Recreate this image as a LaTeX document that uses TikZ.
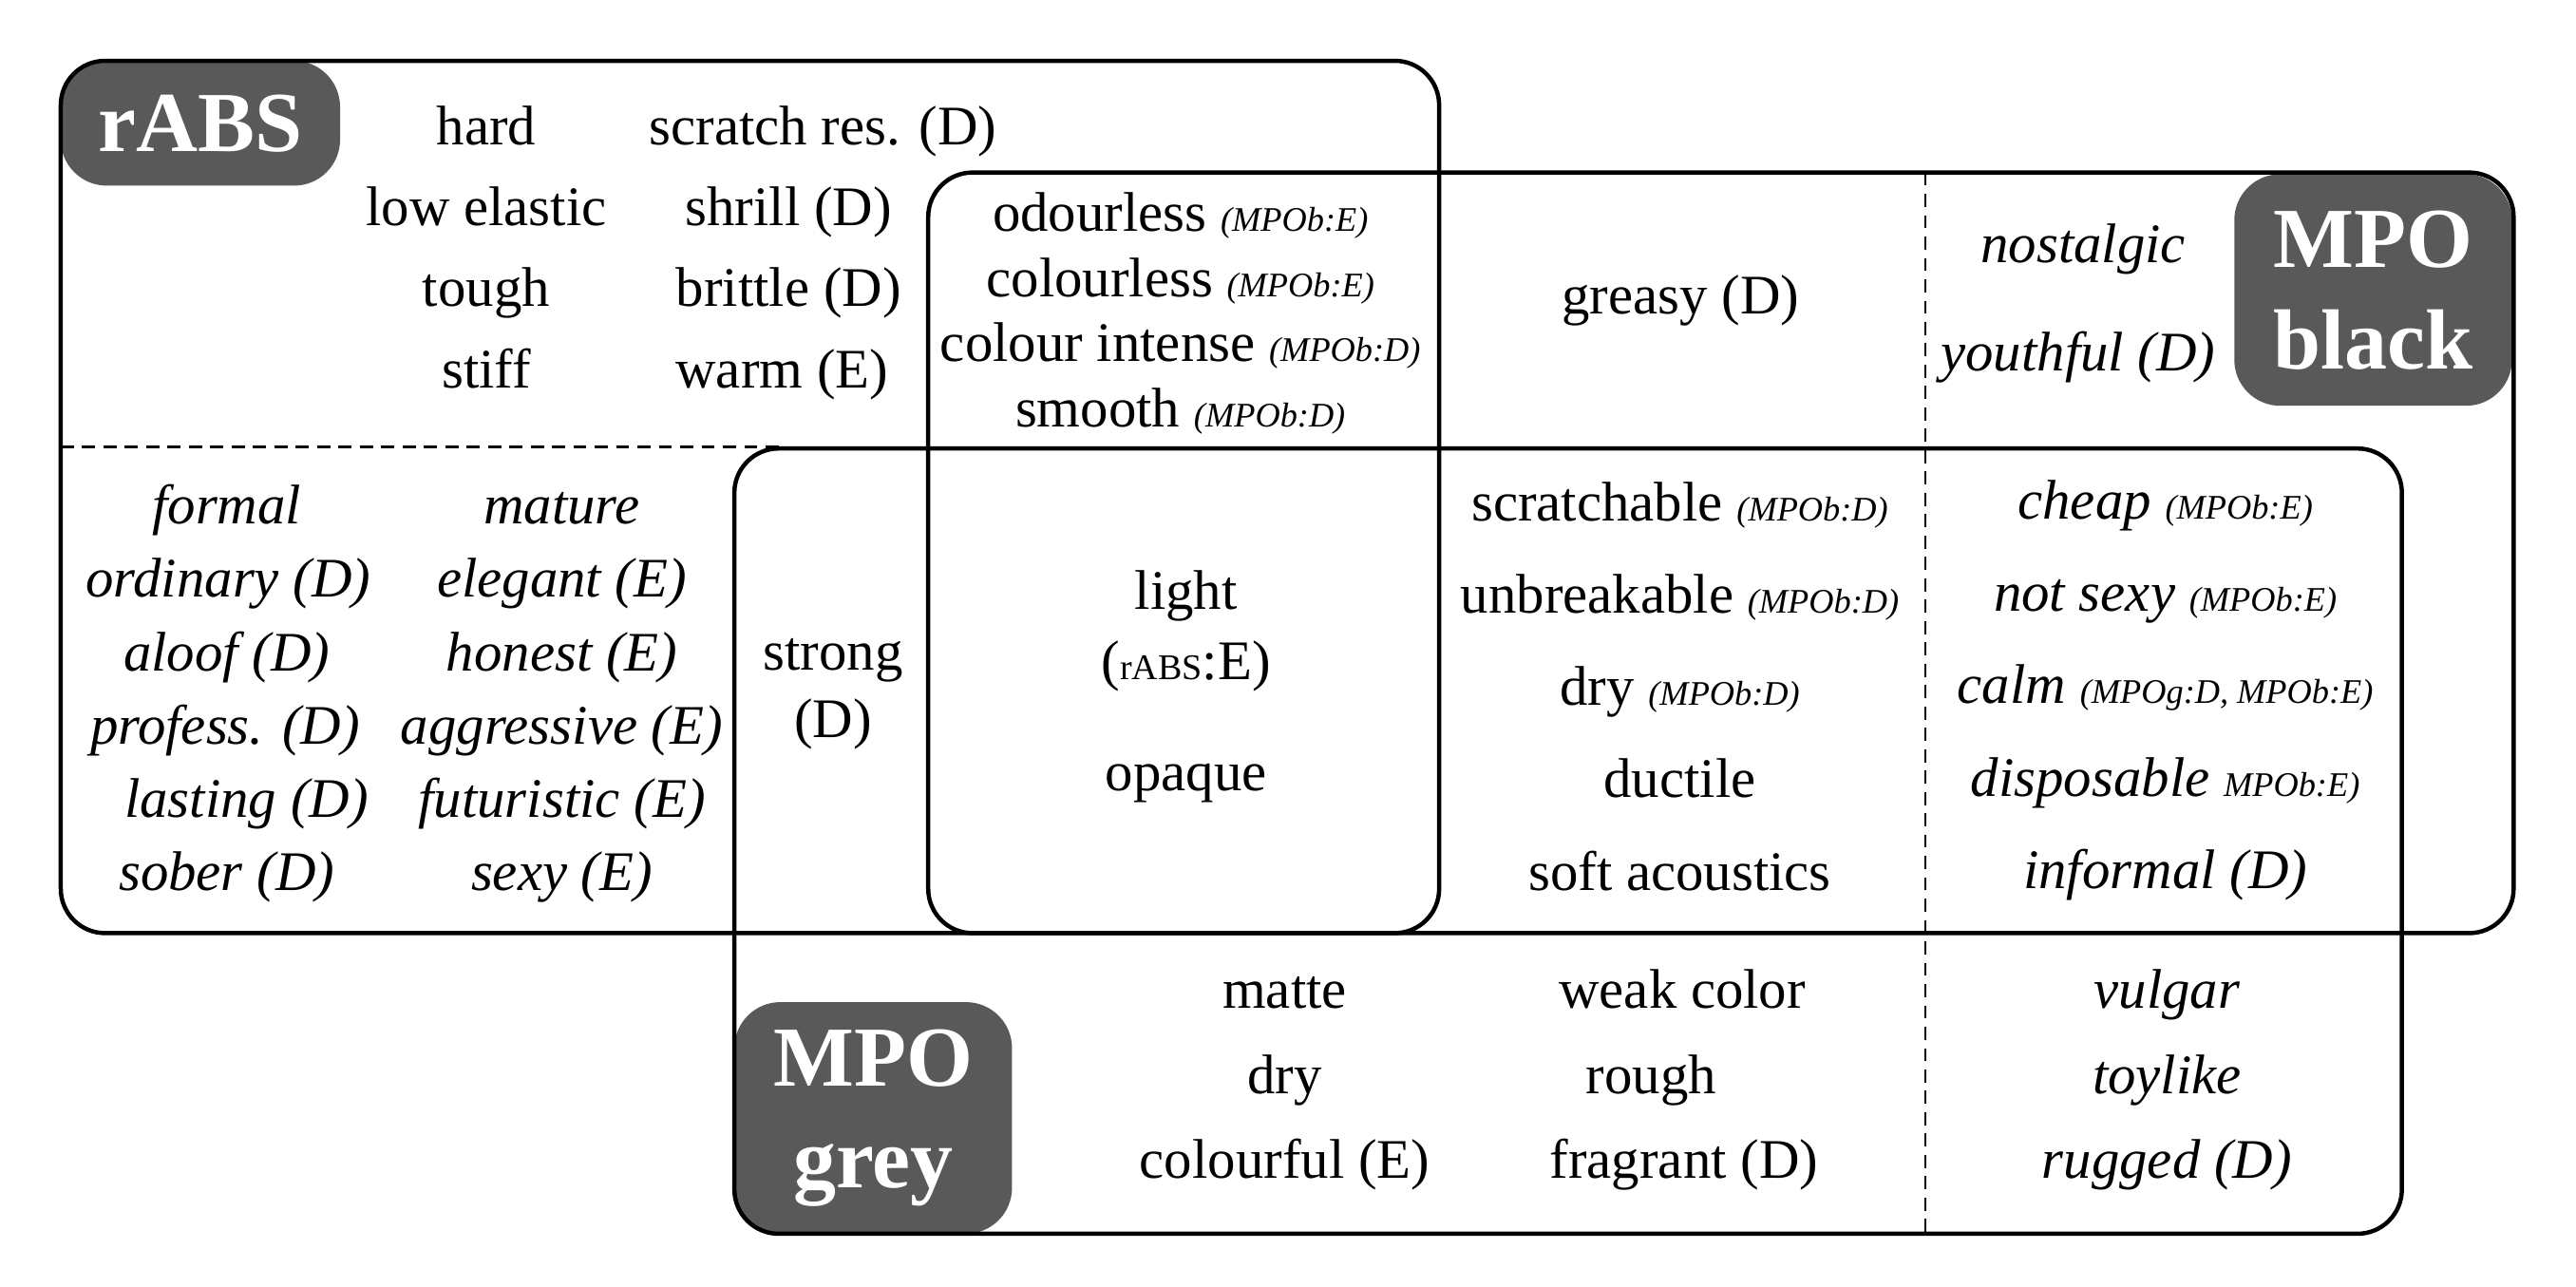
\documentclass[tikz,border=0pt]{standalone}
\usepackage{fontspec}
\setmainfont{Liberation Serif}
\usetikzlibrary{positioning}

\definecolor{taggrey}{HTML}{595959}
\newcommand{\smallnote}[1]{{\fontsize{10.5}{12}\selectfont\itshape #1}}

\begin{document}
\begin{tikzpicture}[x=0.5pt, y=-0.5pt,
  word/.style={font=\fontsize{17}{20}\selectfont, inner sep=0pt, text height=10pt, text depth=0pt},
  iword/.style={word, font=\fontsize{17}{20}\selectfont\itshape},
  tag/.style={fill=taggrey, text=white, rounded corners=14pt, align=center, inner sep=0pt,
    font=\fontsize{26}{31}\selectfont\bfseries},
  setline/.style={line width=1.3pt, rounded corners=13.5pt},
  splitline/.style={line width=0.6pt, dash pattern=on 4pt off 2.5pt}]
\useasboundingbox (0,0) rectangle (1568,783);
% set labels
\node[tag, minimum width=85pt, minimum height=38pt] (rabs) at (122,75) {rABS};
\node[tag, minimum width=84.5pt, minimum height=70.5pt] (mpoblack) at (1444.5,176.5) {MPO\\black};
\node[tag, minimum width=84.5pt, minimum height=70.5pt] (mpogrey) at (531.5,680.5) {MPO\\grey};
% sets
\draw[setline] (37,37) rectangle (876,568);
\draw[setline] (565,105) rectangle (1530,568);
\draw[setline] (447,273) rectangle (1462,751);
% dashed splits
\draw[splitline] (37,272) -- (474,272);
\draw[splitline] (1172,105) -- (1172,751);
% rABS only
\foreach \w [count=\i] in {hard, low elastic, tough, stiff}
  \node[word] (rabsa\i) at (296, {78+49.3*(\i-1)}) {\w};
\foreach \w/\x [count=\i] in {scratch res. (D)/501, shrill (D)/480, brittle (D)/480, warm (E)/476}
  \node[word] (rabsb\i) at (\x, {78+49.3*(\i-1)}) {\w};
\foreach \w/\x [count=\i] in {formal/138, ordinary (D)/139, aloof (D)/138, profess. (D)/137, lasting (D)/150, sober (D)/138}
  \node[iword] (rabsc\i) at (\x, {309+44.6*(\i-1)}) {\w};
\foreach \w [count=\i] in {mature, elegant (E), honest (E), aggressive (E), futuristic (E), sexy (E)}
  \node[iword] (rabsd\i) at (342, {309+44.6*(\i-1)}) {\w};
% rABS and MPO grey
\node[word] (strong) at (507,398) {strong};
\node[word, below=10pt of strong] (strongd) {(D)};
% all three
\node[word] (light) at (722,361) {light};
\node[word, below=11pt of light] (lightnote) {({\fontsize{11}{12}\selectfont rABS}:E)};
\node[word, below=23.5pt of lightnote] (opaque) {opaque};
% rABS and MPO black
\foreach \w [count=\i] in {odourless \smallnote{(MPOb:E)}, colourless \smallnote{(MPOb:E)}, colour intense \smallnote{(MPOb:D)}, smooth \smallnote{(MPOb:D)}}
  \node[word] (rabsblack\i) at (718.5, {131+39.6*(\i-1)}) {\w};
% MPO black only
\node[word] (greasy) at (1023,181) {greasy (D)};
\node[iword] (nostalgic) at (1268,150) {nostalgic};
\node[iword] (youthful) at (1265,216) {youthful (D)};
% MPO black and MPO grey
\foreach \w [count=\i] in {scratchable \smallnote{(MPOb:D)}, unbreakable \smallnote{(MPOb:D)}, dry \smallnote{(MPOb:D)}, ductile, soft acoustics}
  \node[word] (blackgreya\i) at (1022.5, {307+56.2*(\i-1)}) {\w};
\foreach \w [count=\i] in {cheap \smallnote{(MPOb:E)}, not sexy \smallnote{(MPOb:E)}, {calm \smallnote{(MPOg:D, MPOb:E)}}, disposable \smallnote{MPOb:E)}, informal (D)}
  \node[iword] (blackgreyb\i) at (1318, {306+56.2*(\i-1)}) {\w};
% MPO grey only
\foreach \w [count=\i] in {matte, dry, colourful (E)}
  \node[word] (greya\i) at (782, {604+51.5*(\i-1)}) {\w};
\foreach \w/\x [count=\i] in {weak color/1024, rough/1005, fragrant (D)/1025}
  \node[word] (greyb\i) at (\x, {604+51.5*(\i-1)}) {\w};
\foreach \w [count=\i] in {vulgar, toylike, rugged (D)}
  \node[iword] (greyc\i) at (1319, {604+51.5*(\i-1)}) {\w};
\end{tikzpicture}
\end{document}
